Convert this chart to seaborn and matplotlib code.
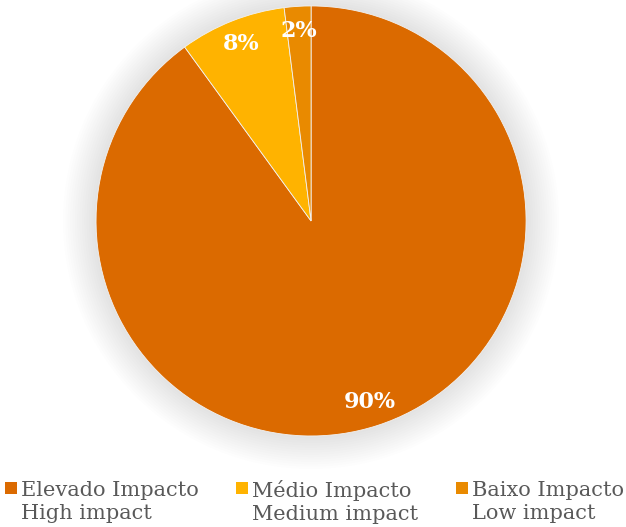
import matplotlib
matplotlib.use("Agg")
import matplotlib.pyplot as plt
import seaborn as sns
import numpy as np
from matplotlib.patches import Circle, Patch, Rectangle
from matplotlib.legend_handler import HandlerPatch

sns.set_style("white")
plt.rcParams['font.family'] = ['DejaVu Serif']

categories = ["Elevado Impacto\nHigh impact", "Médio Impacto\nMedium impact", "Baixo Impacto\nLow impact"]
values = [90, 8, 2]
labels = ["90%", "8%", "2%"]
colors = ["#DB6A00", "#FFB300", "#E98A00"]

fig = plt.figure(figsize=(6.26, 5.27), dpi=100)
ax = fig.add_axes([0.1534, 0.1727, 0.687, 0.816])

# soft shadow
n = 14
for i in range(n):
    r = 1.0 + 0.011 * (n - i)
    ax.add_patch(Circle((0, 0), r, color="#000000", alpha=0.007, lw=0,
                        zorder=0, clip_on=False))

wedges, _ = ax.pie(values, colors=colors, startangle=90, counterclock=False,
                   radius=1.0, wedgeprops=dict(linewidth=0.6, edgecolor="#f2f2f2"))
for w in wedges:
    w.set_clip_on(False)
theta0 = 90.0
cum = 0.0
total = float(sum(values))
for v, lab in zip(values, labels):
    mid = theta0 - 360.0 * (cum + v / 2) / total
    cum += v
    x = 0.885 * np.cos(np.deg2rad(mid))
    y = 0.885 * np.sin(np.deg2rad(mid))
    ax.text(x, y, lab, ha="center", va="center", color="white",
            fontsize=16, fontweight="bold")
ax.set_aspect("equal")
ax.set_xlim(-1, 1)
ax.set_ylim(-1, 1)
ax.axis("off")


def square(legend, orig_handle, xdescent, ydescent, width, height, fontsize):
    s = 8.5
    return Rectangle((-xdescent, -ydescent + 10.5), s, s)


handles = [Patch(facecolor=c, edgecolor="none") for c in colors]
leg = fig.legend(handles, categories, loc="lower left", bbox_to_anchor=(-0.022, -0.030),
                 ncol=3, frameon=False, fontsize=15, handlelength=0.57, handleheight=0.6,
                 handletextpad=0.2, columnspacing=1.8, labelcolor="#595959",
                 handler_map={Patch: HandlerPatch(patch_func=square)})
for t in leg.get_texts():
    t.set_linespacing(1.3)
fig.savefig("out.png", dpi=100)
